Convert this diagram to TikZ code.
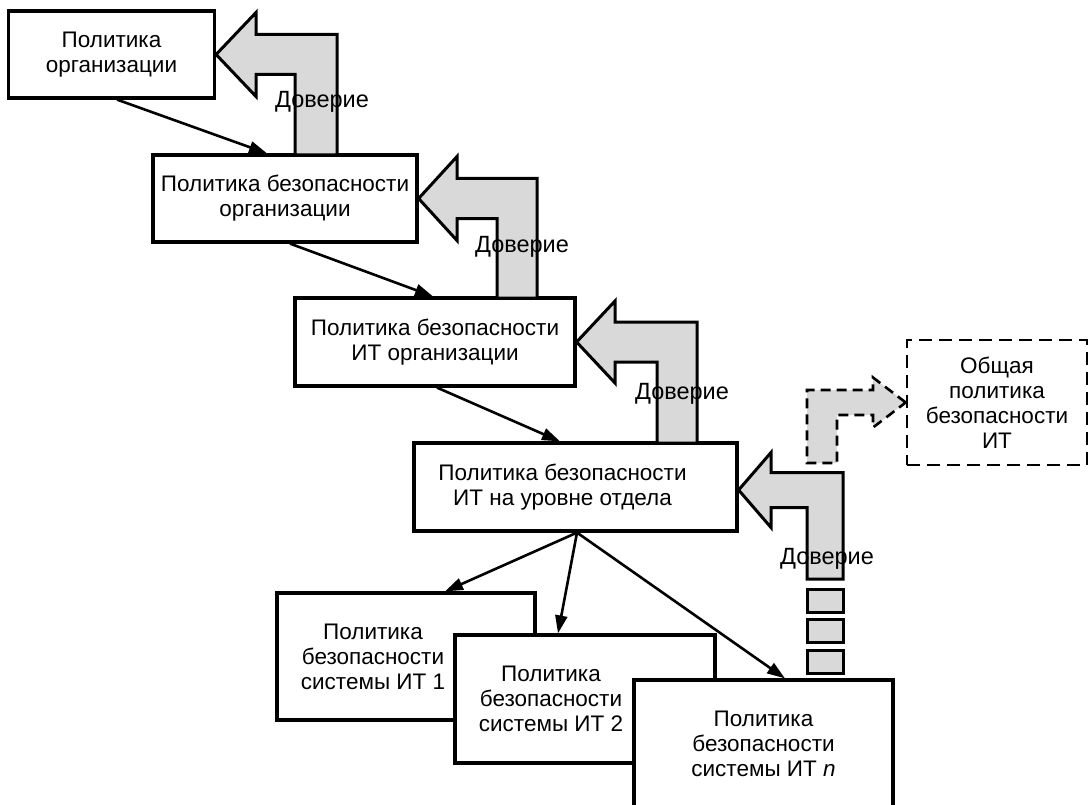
\documentclass[tikz,border=0pt]{standalone}
\usepackage{fontspec}
\setmainfont{Liberation Sans}
\usetikzlibrary{arrows.meta}

\newcommand{\boxfont}{\fontsize{22.5}{25}\selectfont}

\begin{document}
\begin{tikzpicture}[x=1pt,y=-1pt,
        box/.style={draw,line width=3.2pt,fill=white,align=center,inner sep=0pt,font=\boxfont},
        boxtext/.style={align=center,font=\boxfont},
        flow/.style={line width=2.6pt,-{Triangle[length=18pt,width=12pt]}},
        trust/.style={draw,line width=3pt,fill=black!15,line join=miter},
        trustlabel/.style={inner sep=0pt,font=\fontsize{23.5}{25}\selectfont}]
    \useasboundingbox (0,0) rectangle (1089,805);

    % policy boxes
    \node[box,minimum width=206pt,minimum height=87pt] (org) at (111.5,54.5) {Политика\\организации};
    \node[box,minimum width=264pt,minimum height=87pt] (secorg) at (285,198.5) {Политика безопасности\\организации};
    \node[box,minimum width=280pt,minimum height=88pt] (itorg) at (435,342) {Политика безопасности\\ИТ организации};
    \node[box,minimum width=323pt,minimum height=88pt,
          label={[boxtext,xshift=-13pt]center:Политика безопасности\\ИТ на уровне отдела}] (dept) at (575.5,487) {};
    \node[box,dashed,dash pattern=on 13pt off 7pt,line width=2.6pt,
          minimum width=180pt,minimum height=125pt] (common) at (997,402.5) {Общая\\политика\\безопасности\\ИТ};
    \node[box,minimum width=258pt,minimum height=127pt,
          label={[boxtext,xshift=-33pt]center:Политика\\безопасности\\системы ИТ 1}] (sys1) at (406,656.5) {};
    \node[box,minimum width=260pt,minimum height=128pt,
          label={[boxtext,xshift=-34pt]center:Политика\\безопасности\\системы ИТ 2}] (sys2) at (585,699) {};
    \node[box,minimum width=259pt,minimum height=128pt] (sysn) at (763.5,744) {Политика\\безопасности\\системы ИТ \textit{n}};

    % trust arrows
    \draw[trust] (org.east) -- (256,12.5) -- (256,34.5) -- (337,34.5) -- (337,155)
        -- (295,155) -- (295,74.5) -- (256,74.5) -- (256,96.5) -- cycle;
    \draw[trust] (secorg.east) -- (457,156.5) -- (457,178.5) -- (537,178.5) -- (537,298)
        -- (497,298) -- (497,218.5) -- (457,218.5) -- (457,240.5) -- cycle;
    \draw[trust] (itorg.east) -- (615,301) -- (615,322) -- (697,322) -- (697,443)
        -- (657,443) -- (657,362) -- (615,362) -- (615,383) -- cycle;
    \draw[trust] ([yshift=-3pt]dept.east) -- (771,452.5) -- (771,472.5) -- (843,472.5) -- (843,579)
        -- (807,579) -- (807,507.5) -- (771,507.5) -- (771,527.5) -- cycle;
    \foreach \y in {589,619,650}
        \draw[trust] (807,\y) rectangle (843,\y+23);
    \draw[trust,dashed,dash pattern=on 10pt off 6pt,line width=2.6pt] (common.west) -- (873,377.5) -- (873,390)
        -- (807,390) -- (807,463) -- (837,463) -- (837,415) -- (873,415) -- (873,427.5) -- cycle;

    \node[trustlabel] (trust1) at (322,102) {Доверие};
    \node[trustlabel] (trust2) at (522,247) {Доверие};
    \node[trustlabel] (trust3) at (682,394) {Доверие};
    \node[trustlabel] (trust4) at (827,559) {Доверие};

    % hierarchy
    \draw[flow] ([xshift=5.5pt]org.south) -- ([xshift=-18pt]secorg.north);
    \draw[flow] ([xshift=5pt]secorg.south) -- ([xshift=-2pt]itorg.north);
    \draw[flow] ([xshift=2pt]itorg.south) -- ([xshift=-15.5pt]dept.north);
    \coordinate (fan) at ([xshift=1.5pt]dept.south);
    \draw[flow] (fan) -- ([xshift=39pt]sys1.north);
    \draw[flow] (fan) -- ([xshift=-27pt]sys2.north);
    \draw[flow] (fan) -- ([xshift=21.5pt]sysn.north);
\end{tikzpicture}
\end{document}
